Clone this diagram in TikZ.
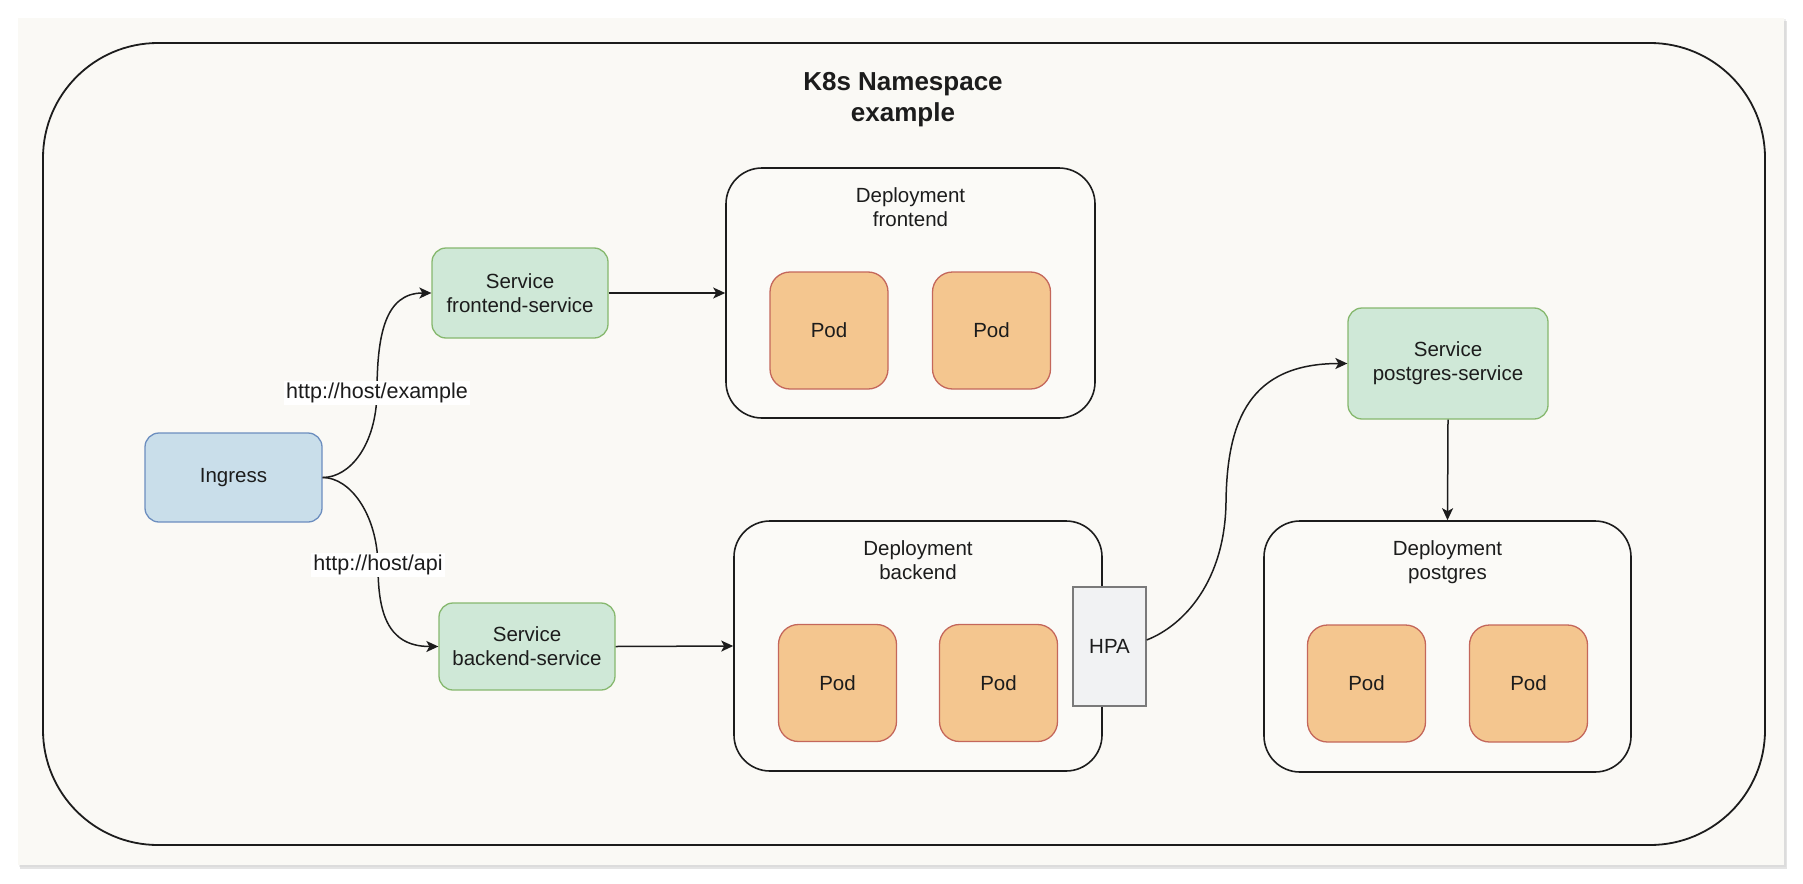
\documentclass[tikz,border=0pt]{standalone}
\usepackage{fontspec}
\setmainfont{Liberation Sans}
\usetikzlibrary{arrows.meta,shadows}
\definecolor{cardbg}{HTML}{FAF9F5}
\definecolor{depbg}{HTML}{FBFAF7}
\definecolor{svcfill}{HTML}{CFE8D7}
\definecolor{svcline}{HTML}{86B86E}
\definecolor{ingfill}{HTML}{C9DEEA}
\definecolor{ingline}{HTML}{6C8EBF}
\definecolor{podfill}{HTML}{F4C68F}
\definecolor{podline}{HTML}{C4675B}
\definecolor{hpafill}{HTML}{F1F2F3}
\definecolor{hpaline}{HTML}{7A7A7A}
\definecolor{inkc}{HTML}{1C1C1C}
\newcommand{\kfnode}{\fontsize{20.5}{24}\selectfont}
\newcommand{\kftitle}{\fontsize{26}{31}\selectfont\bfseries}
\newcommand{\kflabel}{\fontsize{21.5}{25}\selectfont}
\begin{document}
\begin{tikzpicture}[x=1pt,y=-1pt,
  every node/.style={text=inkc},
  basebox/.style={draw, inner sep=0pt, align=center, font=\kfnode},
  svcbox/.style={basebox, fill=svcfill, draw=svcline, line width=1.3pt, rounded corners=14pt},
  ingbox/.style={basebox, fill=ingfill, draw=ingline, line width=1.3pt, rounded corners=14pt, minimum width=177pt, minimum height=89pt},
  podbox/.style={basebox, fill=podfill, draw=podline, line width=1.3pt, rounded corners=20pt, minimum width=118pt, minimum height=117pt},
  depbox/.style={basebox, fill=depbg, draw=inkc, line width=1.6pt, rounded corners=36pt},
  hpabox/.style={basebox, fill=hpafill, draw=hpaline, line width=1.3pt, minimum width=73pt, minimum height=119pt},
  deplabel/.style={anchor=north, inner sep=0pt, align=center, font=\kfnode},
  lbl/.style={fill=white, inner sep=2pt, font=\kflabel},
  arr/.style={draw=inkc, line width=1.5pt, -{Stealth[length=12pt,width=11pt,inset=3pt]}},
]
\useasboundingbox (0,0) rectangle (1803,883);
\fill[white] (0,0) rectangle (1803,883);
% card
\fill[black!30, opacity=0.35] (20,21) rectangle (1787,869);
\fill[black!20, opacity=0.3] (19,19) rectangle (1786,867);
\fill[cardbg] (18,18) rectangle (1784,865);
% namespace container
\node[draw=inkc, line width=1.8pt, rounded corners=115pt, minimum width=1722pt, minimum height=802pt, inner sep=0pt] (ns) at (904,444) {};
\node[anchor=north, inner sep=0pt, align=center, font=\kftitle] (title) at (903,72) {K8s Namespace\\example};

% deployments
\node[depbox, minimum width=369pt, minimum height=250pt] (fdep) at (910.5,293) {};
\node[deplabel] (fdeplbl) at (910.5,187) {Deployment\\frontend};
\node[depbox, minimum width=368pt, minimum height=250pt] (bdep) at (918,646) {};
\node[deplabel] (bdeplbl) at (918,540) {Deployment\\backend};
\node[depbox, minimum width=367pt, minimum height=251pt] (pdep) at (1447.5,646.5) {};
\node[deplabel] (pdeplbl) at (1447.5,540) {Deployment\\postgres};

% pods
\node[podbox] (fpod1) at (829,330.5) {Pod};
\node[podbox] (fpod2) at (991.5,330.5) {Pod};
\node[podbox] (bpod1) at (837.5,683) {Pod};
\node[podbox] (bpod2) at (998.5,683) {Pod};
\node[podbox] (ppod1) at (1366.5,683.5) {Pod};
\node[podbox] (ppod2) at (1528.5,683.5) {Pod};

% HPA
\node[hpabox] (hpa) at (1109.5,646.5) {HPA};

% services
\node[ingbox] (ing) at (233.5,477.5) {Ingress};
\node[svcbox, minimum width=176pt, minimum height=90pt] (fsvc) at (520,293) {Service\\frontend-service};
\node[svcbox, minimum width=176pt, minimum height=87pt] (bsvc) at (527,646.5) {Service\\backend-service};
\node[svcbox, minimum width=200pt, minimum height=111pt] (psvc) at (1448,363.5) {Service\\postgres-service};

% connectors
\draw[arr] (ing.east) .. controls (350,477.5) and (376,445) .. (377,393)
  node[lbl] {http://host/example}
  .. controls (377,335) and (385,293) .. (fsvc.west);
\draw[arr] (ing.east) .. controls (350,477.5) and (377,514) .. (378,565)
  node[lbl] {http://host/api}
  .. controls (378,610) and (386,646.5) .. (bsvc.west);
\draw[arr] (fsvc.east) -- (fdep.west);
\draw[arr] (bsvc.east) -- (bdep.west);
\draw[arr] (hpa.east |- 0,640) .. controls (1185,625) and (1225,580) .. (1226,502)
  .. controls (1227,420) and (1250,363.5) .. (psvc.west);
\draw[arr] (psvc.south) -- (pdep.north);
\end{tikzpicture}
\end{document}
